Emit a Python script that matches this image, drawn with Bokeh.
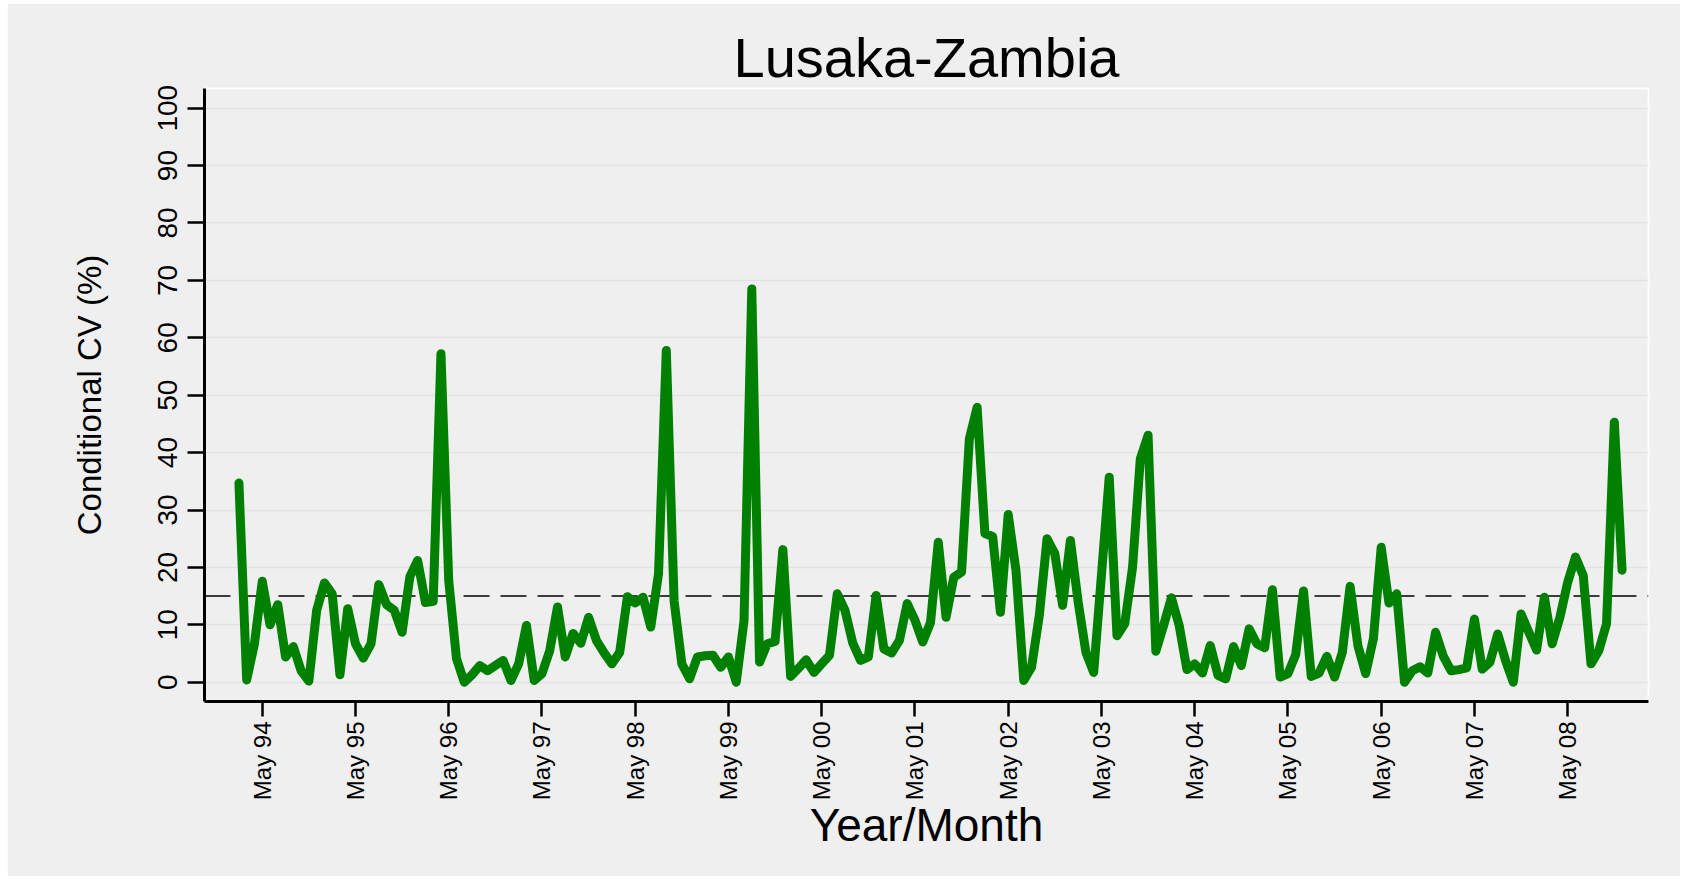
import math
from bokeh.plotting import figure
from bokeh.models import FixedTicker, Span, ColumnDataSource, Range1d
from bokeh.embed import file_html
from bokeh.resources import INLINE

# Monthly conditional CV (%) for Lusaka, Feb 1994 .. Dec 2008
start_year = 1994
start_month = 2
cv_values = [
    34.7, 0.4, 6.7,
    17.6, 10.0, 13.5, 4.4, 6.2, 2.0, 0.2, 12.5, 17.3, 15.4, 1.3, 12.8,
    6.7, 4.2, 6.7, 17.0, 13.5, 12.5, 8.7, 18.4, 21.2, 13.9, 14.1, 57.2,
    17.7, 4.1, 0.0, 1.3, 2.9, 2.0, 2.9, 3.8, 0.3, 3.2, 9.9, 0.3,
    1.5, 5.5, 13.1, 4.4, 8.5, 6.8, 11.3, 7.3, 5.1, 3.2, 5.2, 14.9,
    13.8, 14.8, 9.6, 18.9, 57.8, 14.2, 3.2, 0.6, 4.4, 4.6, 4.7, 2.6,
    4.4, 0.0, 10.7, 68.5, 3.5, 6.7, 7.1, 23.1, 1.0, 2.4, 3.9, 1.7,
    3.2, 4.7, 15.4, 12.5, 6.8, 3.8, 4.4, 15.1, 5.8, 5.1, 7.3, 13.7,
    10.8, 7.0, 10.4, 24.4, 11.3, 18.3, 19.2, 42.4, 47.9, 25.9, 25.4, 12.2,
    29.2, 19.5, 0.3, 2.6, 11.6, 25.0, 22.4, 13.4, 24.7, 14.0, 5.2, 1.7,
    18.7, 35.7, 8.1, 10.2, 20.0, 38.9, 43.0, 5.4, 9.9, 14.7, 9.9, 2.2,
    3.2, 1.6, 6.4, 1.2, 0.6, 6.2, 2.9, 9.3, 6.7, 6.0, 16.1, 0.9,
    1.5, 4.8, 15.9, 1.0, 1.6, 4.5, 0.9, 5.2, 16.7, 6.4, 1.5, 7.6,
    23.5, 13.8, 15.4, 0.0, 2.0, 2.7, 1.6, 8.7, 4.5, 2.0, 2.2, 2.5,
    11.0, 2.3, 3.5, 8.4, 3.8, 0.0, 11.9, 8.7, 5.6, 14.8, 6.7, 11.3,
    17.4, 21.8, 18.6, 3.2, 5.5, 10.2, 45.3, 19.5,
]
reference_level = 15

tick_years = list(range(1994, 2009))
tick_labels = ["May %02d" % (y % 100) for y in tick_years]
y_ticks = list(range(0, 101, 10))

# x = months since Jan 1994
month_index = [start_month - 1 + i for i in range(len(cv_values))]
tick_pos = [(y - start_year) * 12 + 4 for y in tick_years]

src = ColumnDataSource(data=dict(t=month_index, v=cv_values))

FONT = "Liberation Sans"
BG = "#efefef"

p = figure(
    width=1673, height=873,
    x_range=Range1d(-3.43, 182.4), y_range=Range1d(-3.36, 103.43),
    output_backend="svg", toolbar_location=None,
    min_border_left=197, min_border_right=32, min_border_top=85, min_border_bottom=175,
    background_fill_color=BG, border_fill_color=BG,
    outline_line_color="white", outline_line_width=2,
)
p.margin = (3, 0, 0, 7)

p.title.text = "Lusaka-Zambia"
p.title.text_font = FONT
p.title.text_font_size = "56px"
p.title.text_font_style = "normal"
p.title.text_color = "black"
p.title.align = "center"
p.title.standoff = 0

p.xgrid.visible = False
p.ygrid.ticker = FixedTicker(ticks=y_ticks)
p.ygrid.grid_line_color = "#e2e2e2"
p.ygrid.grid_line_width = 1.5

ref = Span(location=reference_level, dimension="width", line_color="#3c3c3c",
           line_width=2, line_dash="26 11", level="underlay")
p.add_layout(ref)

p.line(x="t", y="v", source=src, line_color="#008000", line_width=9,
       line_join="round", line_cap="round")

# x axis
xa = p.xaxis[0]
xa.ticker = FixedTicker(ticks=tick_pos)
xa.major_label_overrides = {tp: lab for tp, lab in zip(tick_pos, tick_labels)}
xa.major_label_orientation = math.pi / 2
xa.axis_label = "Year/Month"
xa.axis_label_text_font = FONT
xa.axis_label_text_font_size = "46px"
xa.axis_label_text_font_style = "normal"
xa.axis_label_text_color = "black"
xa.axis_label_standoff = -4
xa.major_label_text_font = FONT
xa.major_label_text_font_size = "24px"
xa.major_label_text_color = "black"
xa.major_label_standoff = 5
xa.major_tick_out = 15
xa.major_tick_in = 0
xa.minor_tick_line_color = None
xa.axis_line_width = 3
xa.major_tick_line_width = 2.5

# y axis
ya = p.yaxis[0]
ya.ticker = FixedTicker(ticks=y_ticks)
ya.major_label_orientation = "vertical"
ya.axis_label = "Conditional CV (%)"
ya.axis_label_text_font = FONT
ya.axis_label_text_font_size = "33px"
ya.axis_label_text_font_style = "normal"
ya.axis_label_text_color = "black"
ya.axis_label_standoff = 48
ya.major_label_text_font = FONT
ya.major_label_text_font_size = "28px"
ya.major_label_text_color = "black"
ya.major_label_standoff = 10
ya.major_tick_out = 17
ya.major_tick_in = 0
ya.minor_tick_line_color = None
ya.axis_line_width = 3
ya.major_tick_line_width = 2.5

open("out.html", "w").write(file_html(p, INLINE))
